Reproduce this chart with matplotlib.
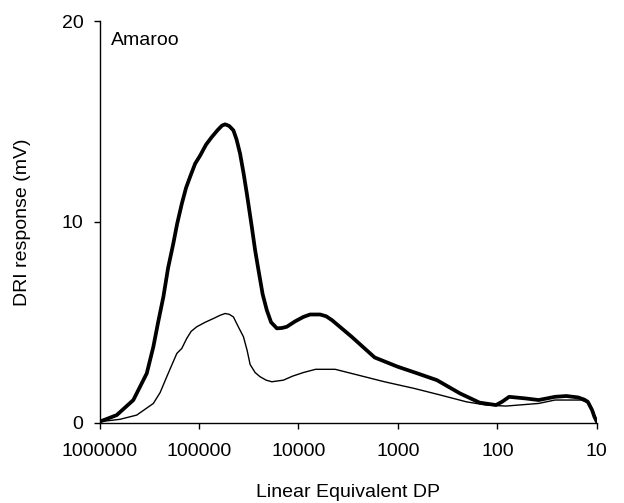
import numpy as np
import matplotlib
matplotlib.use("Agg")
import matplotlib.pyplot as plt

plt.rcParams['font.family'] = ['Liberation Sans', 'DejaVu Sans']

# log10(linear equivalent DP) and DRI response (mV)
thick_logdp = [6.0, 5.827, 5.66, 5.525, 5.459, 5.411, 5.358, 5.311, 5.258, 5.220,
               5.173, 5.130, 5.090, 5.039, 4.989, 4.929, 4.871, 4.808, 4.768, 4.737,
               4.697, 4.654, 4.622, 4.587, 4.551, 4.519, 4.469, 4.436, 4.402, 4.360,
               4.318, 4.275, 4.217, 4.164, 4.117, 4.033, 3.950, 3.883, 3.782, 3.721,
               3.661, 3.465, 3.234, 3.003, 2.806, 2.608, 2.376, 2.179, 2.014, 1.951,
               1.882, 1.717, 1.585, 1.421, 1.307, 1.189, 1.126, 1.091, 1.048, 1.025,
               1.0]
thick_mv = [0.05, 0.38, 1.13, 2.46, 3.78, 5.0, 6.27, 7.7, 8.93, 9.9,
            10.9, 11.7, 12.24, 12.9, 13.3, 13.85, 14.23, 14.6, 14.8, 14.86,
            14.78, 14.56, 14.1, 13.4, 12.4, 11.41, 9.75, 8.6, 7.6, 6.4,
            5.6, 5.0, 4.7, 4.72, 4.78, 5.05, 5.27, 5.39, 5.39, 5.3,
            5.1, 4.28, 3.25, 2.79, 2.46, 2.12, 1.46, 1.0, 0.88, 1.05,
            1.29, 1.21, 1.13, 1.29, 1.33, 1.26, 1.15, 1.04, 0.63, 0.3,
            0.05]

thin_logdp = [6.0, 5.794, 5.626, 5.459, 5.391, 5.324, 5.271, 5.223, 5.173, 5.123,
              5.079, 5.022, 4.939, 4.855, 4.788, 4.737, 4.697, 4.654, 4.607, 4.553,
              4.516, 4.486, 4.436, 4.386, 4.325, 4.268, 4.151, 4.059, 3.950, 3.828,
              3.631, 3.399, 3.136, 2.838, 2.574, 2.311, 2.113, 1.914, 1.585, 1.421,
              1.157, 1.074, 1.035, 1.0]
thin_mv = [0.05, 0.17, 0.38, 0.96, 1.5, 2.29, 2.9, 3.45, 3.7, 4.2,
           4.55, 4.78, 5.0, 5.19, 5.35, 5.44, 5.4, 5.27, 4.8, 4.28,
           3.6, 2.9, 2.5, 2.29, 2.12, 2.04, 2.12, 2.32, 2.5, 2.66,
           2.66, 2.37, 2.04, 1.71, 1.38, 1.04, 0.88, 0.83, 0.96, 1.13,
           1.13, 0.96, 0.55, 0.05]

xticks = [1000000, 100000, 10000, 1000, 100, 10]
yticks = [0, 10, 20]

fig = plt.figure(figsize=(6.24, 5.03), dpi=100)
ax = fig.add_axes([0.1595, 0.1596, 0.797, 0.7984])

ax.plot(10 ** np.array(thick_logdp), thick_mv, color='black', lw=2.7)
ax.plot(10 ** np.array(thin_logdp), thin_mv, color='black', lw=1.0)

ax.set_xscale('log')
ax.set_xlim(1000000, 10)
ax.set_ylim(0, 20)
ax.set_xticks(xticks)
ax.set_xticklabels([str(t) for t in xticks])
ax.minorticks_off()
ax.set_yticks(yticks)

for s in ['top', 'right']:
    ax.spines[s].set_visible(False)
for s in ['left', 'bottom']:
    ax.spines[s].set_linewidth(1.0)

ax.tick_params(axis='both', direction='out', length=4.5, width=1, labelsize=14)
ax.tick_params(axis='x', pad=10)
ax.tick_params(axis='y', pad=7)

ax.set_xlabel('Linear Equivalent DP', fontsize=14)
ax.set_ylabel('DRI response (mV)', fontsize=14)
ax.xaxis.set_label_coords(0.5, -0.152)
ax.yaxis.set_label_coords(-0.138, 0.5)
ax.text(0.023, 0.972, 'Amaroo', transform=ax.transAxes, fontsize=14, va='top', ha='left')

fig.savefig('out.png', dpi=100)
